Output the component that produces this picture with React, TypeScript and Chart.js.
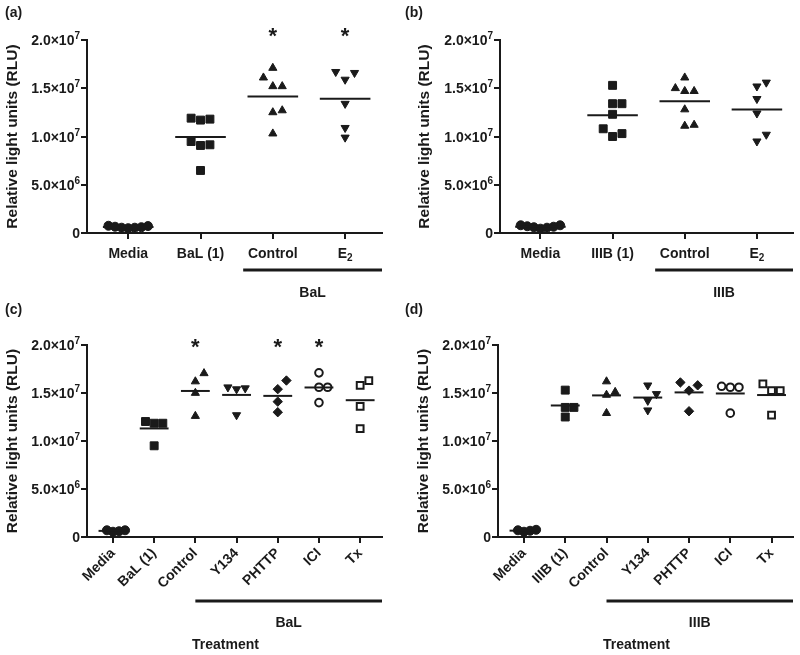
import React, { useEffect, useRef } from "react";
import { Chart, registerables } from "chart.js";

Chart.register(...registerables);

const INK = "#1a1a1a";
const FONT = "'Liberation Sans', Arial, Helvetica, sans-serif";

// ---- shared axis text ----
const yTickValues = [0, 5e6, 1e7, 1.5e7, 2e7];
const yTickLabels = ["0", "5.0×10⁶", "1.0×10⁷", "1.5×10⁷", "2.0×10⁷"];
const yAxisTitle = "Relative light units (RLU)";
const xAxisTitle = "Treatment";

// ---- panel (a): BaL ----
const aCategories = ["Media", "BaL (1)", "Control", "E₂"];
const aMedia = [0.75e6, 0.65e6, 0.55e6, 0.5e6, 0.55e6, 0.6e6, 0.72e6];
const aBaL1 = [11.9e6, 11.7e6, 11.8e6, 9.14e6, 9.07e6, 9.48e6, 6.48e6];
const aControl = [16.1e6, 17.1e6, 15.2e6, 15.2e6, 12.7e6, 12.5e6, 10.3e6];
const aE2 = [16.7e6, 15.9e6, 16.6e6, 13.4e6, 9.9e6, 10.9e6];
const aSignificant = [false, false, true, true];
const aGroup = "BaL";

// ---- panel (b): IIIB ----
const bCategories = ["Media", "IIIB (1)", "Control", "E₂"];
const bMedia = [0.8e6, 0.7e6, 0.6e6, 0.45e6, 0.55e6, 0.65e6, 0.8e6];
const bIIIB1 = [15.3e6, 13.4e6, 13.4e6, 12.3e6, 10.8e6, 10.0e6, 10.3e6];
const bControl = [16.1e6, 15.0e6, 14.7e6, 14.7e6, 12.8e6, 11.1e6, 11.2e6];
const bE2 = [15.6e6, 15.2e6, 13.9e6, 12.4e6, 9.5e6, 10.2e6];
const bSignificant = [false, false, false, false];
const bGroup = "IIIB";

// ---- panel (c): BaL with inhibitors ----
const cCategories = ["Media", "BaL (1)", "Control", "Y134", "PHTTP", "ICI", "Tx"];
const cMedia = [0.55e6, 0.7e6, 0.7e6, 0.6e6];
const cBaL1 = [11.85e6, 11.85e6, 12.03e6, 9.5e6];
const cControl = [16.2e6, 17.05e6, 15.0e6, 12.6e6];
const cY134 = [15.5e6, 15.4e6, 15.6e6, 12.7e6];
const cPHTTP = [16.3e6, 15.4e6, 14.1e6, 13.0e6];
const cICI = [17.1e6, 15.6e6, 15.6e6, 14.0e6];
const cTx = [15.8e6, 16.3e6, 13.6e6, 11.3e6];
const cSignificant = [false, false, true, false, true, true, false];
const cGroup = "BaL";

// ---- panel (d): IIIB with inhibitors ----
const dCategories = ["Media", "IIIB (1)", "Control", "Y134", "PHTTP", "ICI", "Tx"];
const dMedia = [0.55e6, 0.65e6, 0.7e6, 0.75e6];
const dIIIB1 = [15.3e6, 13.5e6, 13.5e6, 12.5e6];
const dControl = [16.2e6, 15.1e6, 14.8e6, 12.9e6];
const dY134 = [15.8e6, 14.9e6, 14.2e6, 13.2e6];
const dPHTTP = [15.8e6, 16.1e6, 15.25e6, 13.1e6];
const dICI = [15.6e6, 15.6e6, 15.7e6, 12.9e6];
const dTx = [15.25e6, 15.25e6, 15.95e6, 12.7e6];
const dSignificant = [false, false, false, false, false, false, false];
const dGroup = "IIIB";

// ---- marker styles ----
type Marker = { style: string; radius: number; rotation?: number; open?: boolean; packing?: number };
const dot: Marker = { style: "circle", radius: 4.5, packing: 0.7 };
const square: Marker = { style: "rect", radius: 5.6 };
const triUp: Marker = { style: "triangle", radius: 4.7 };
const triDown: Marker = { style: "triangle", radius: 4.7, rotation: 180 };
const diamond: Marker = { style: "rectRot", radius: 4.7 };
const ring: Marker = { style: "circle", radius: 3.8, open: true };
const openSquare: Marker = { style: "rect", radius: 4.8, open: true };

const MEAN_HALF = 0.35;
const SWARM_UNIT_Y = 1.0e6;

const SUPER: Record<string, string> = { "⁰": "0", "¹": "1", "²": "2", "³": "3", "⁴": "4", "⁵": "5", "⁶": "6", "⁷": "7", "⁸": "8", "⁹": "9" };
const SUB: Record<string, string> = { "₀": "0", "₁": "1", "₂": "2", "₃": "3", "₄": "4", "₅": "5", "₆": "6", "₇": "7", "₈": "8", "₉": "9" };

// split a label into runs: normal / sup / sub
function runs(text: string): { t: string; kind: "n" | "sup" | "sub" }[] {
  const out: { t: string; kind: "n" | "sup" | "sub" }[] = [];
  for (const ch of text) {
    const kind = SUPER[ch] ? "sup" : SUB[ch] ? "sub" : "n";
    const c = SUPER[ch] || SUB[ch] || ch;
    const last = out[out.length - 1];
    if (last && last.kind === kind) last.t += c;
    else out.push({ t: c, kind });
  }
  return out;
}

// draw rich label; align "right" or "center"; y is vertical middle
function drawRich(ctx: CanvasRenderingContext2D, text: string, x: number, y: number, align: "right" | "center", size: number) {
  const parts = runs(text);
  const small = Math.round(size * 0.72);
  const widths = parts.map((p) => {
    ctx.font = `bold ${p.kind === "n" ? size : small}px ${FONT}`;
    return ctx.measureText(p.t).width;
  });
  const total = widths.reduce((s, w) => s + w, 0);
  let cx = align === "right" ? x - total : x - total / 2;
  ctx.textAlign = "left";
  ctx.textBaseline = "alphabetic";
  const base = y + size * 0.36;
  parts.forEach((p, i) => {
    ctx.font = `bold ${p.kind === "n" ? size : small}px ${FONT}`;
    const dy = p.kind === "sup" ? -size * 0.42 : p.kind === "sub" ? size * 0.22 : 0;
    ctx.fillText(p.t, cx, base + dy);
    cx += widths[i];
  });
}

function swarm(values: number[], step: number): number[] {
  const order = values.map((_, i) => i).sort((p, q) => values[p] - values[q]);
  const placed: { dx: number; v: number }[] = [];
  const offs = new Array(values.length).fill(0);
  for (const i of order) {
    for (let k = 0; k < 50; k++) {
      const cand = k === 0 ? 0 : k % 2 === 1 ? (k + 1) / 2 : -k / 2;
      const hit = placed.some((p) => {
        const dx = p.dx - cand;
        const dy = (p.v - values[i]) / SWARM_UNIT_Y;
        return dx * dx + dy * dy < 0.999;
      });
      if (!hit) {
        offs[i] = cand;
        placed.push({ dx: cand, v: values[i] });
        break;
      }
    }
  }
  return offs.map((o) => o * step);
}

interface PanelSpec {
  tag: string;
  categories: string[];
  series: number[][];
  markers: Marker[];
  significant: boolean[];
  group: string;
  treatment: boolean;
  frame: { left: number; top: number; width: number; height: number };
  padLeft: number;
  yAxisWidth: number;
  padRight: number;
  padTop: number;
  xAxisHeight: number;
  xMin: number;
  xMax: number;
  rotate: number;
  swarmStep: number;
  bracketFrom: number;
  bracketGap: number;
  groupGap: number;
  treatmentGap: number;
  starGap: number;
  tagY: number;
  tickPad: number;
}

const panels: PanelSpec[] = [
  {
    tag: "(a)", categories: aCategories, series: [aMedia, aBaL1, aControl, aE2],
    markers: [dot, square, triUp, triDown], significant: aSignificant, group: aGroup, treatment: false,
    frame: { left: 0, top: 0, width: 400, height: 300 },
    padLeft: 0, yAxisWidth: 87, padRight: 18, padTop: 40, xAxisHeight: 67,
    xMin: -0.57, xMax: 3.51, rotate: 0, swarmStep: 0.13,
    bracketFrom: 1.59, bracketGap: 37, groupGap: 60, treatmentGap: 0, starGap: 10, tagY: 13, tickPad: 5,
  },
  {
    tag: "(b)", categories: bCategories, series: [bMedia, bIIIB1, bControl, bE2],
    markers: [dot, square, triUp, triDown], significant: bSignificant, group: bGroup, treatment: false,
    frame: { left: 400, top: 0, width: 400, height: 300 },
    padLeft: 12, yAxisWidth: 88, padRight: 7, padTop: 40, xAxisHeight: 67,
    xMin: -0.56, xMax: 3.5, rotate: 0, swarmStep: 0.13,
    bracketFrom: 1.59, bracketGap: 37, groupGap: 60, treatmentGap: 0, starGap: 10, tagY: 13, tickPad: 5,
  },
  {
    tag: "(c)", categories: cCategories, series: [cMedia, cBaL1, cControl, cY134, cPHTTP, cICI, cTx],
    markers: [dot, square, triUp, triDown, diamond, ring, openSquare], significant: cSignificant, group: cGroup, treatment: true,
    frame: { left: 0, top: 300, width: 400, height: 355 },
    padLeft: 0, yAxisWidth: 87, padRight: 18, padTop: 45, xAxisHeight: 118,
    xMin: -0.63, xMax: 6.53, rotate: 45, swarmStep: 0.21,
    bracketFrom: 2, bracketGap: 64, groupGap: 86, treatmentGap: 108, starGap: 4, tagY: 10, tickPad: 2,
  },
  {
    tag: "(d)", categories: dCategories, series: [dMedia, dIIIB1, dControl, dY134, dPHTTP, dICI, dTx],
    markers: [dot, square, triUp, triDown, diamond, ring, openSquare], significant: dSignificant, group: dGroup, treatment: true,
    frame: { left: 400, top: 300, width: 400, height: 355 },
    padLeft: 11, yAxisWidth: 87, padRight: 7, padTop: 45, xAxisHeight: 118,
    xMin: -0.63, xMax: 6.52, rotate: 45, swarmStep: 0.21,
    bracketFrom: 2, bracketGap: 64, groupGap: 86, treatmentGap: 108, starGap: 4, tagY: 10, tickPad: 2,
  },
];

function Panel({ spec }: { spec: PanelSpec }) {
  const ref = useRef<HTMLCanvasElement>(null);
  useEffect(() => {
    const canvas = ref.current;
    if (!canvas) return;
    const datasets: any[] = [];
    spec.series.forEach((vals, ci) => {
      const m = spec.markers[ci];
      const offs = swarm(vals, spec.swarmStep * (m.packing ?? 1));
      datasets.push({
        label: spec.categories[ci],
        data: vals.map((v, k) => ({ x: ci + offs[k], y: v })),
        showLine: false,
        pointStyle: m.style,
        pointRadius: m.radius,
        pointHoverRadius: m.radius,
        pointRotation: m.rotation ?? 0,
        pointBackgroundColor: m.open ? "#ffffff" : INK,
        pointBorderColor: INK,
        pointBorderWidth: m.open ? 2 : 1,
        order: 2,
      });
      const mean = vals.reduce((s, v) => s + v, 0) / vals.length;
      datasets.push({
        label: spec.categories[ci] + " mean",
        data: [
          { x: ci - MEAN_HALF, y: mean },
          { x: ci + MEAN_HALF, y: mean },
        ],
        showLine: true,
        borderColor: INK,
        borderWidth: 2,
        pointRadius: 0,
        pointHoverRadius: 0,
        order: 1,
      });
    });

    const customX = spec.rotate === 0;

    const decor = {
      id: "decor",
      afterDraw(chart: any) {
        const { ctx, chartArea } = chart;
        const xs = chart.scales.x;
        const ys = chart.scales.y;
        ctx.save();
        ctx.fillStyle = INK;
        ctx.strokeStyle = INK;
        // y tick labels (with superscript exponents)
        yTickValues.forEach((v, i) => {
          drawRich(ctx, yTickLabels[i], chartArea.left - 7, ys.getPixelForValue(v), "right", 14);
        });
        // x tick labels for unrotated panels (subscripts)
        if (customX) {
          spec.categories.forEach((c, i) => {
            drawRich(ctx, c, xs.getPixelForValue(i), chartArea.bottom + 20, "center", 14);
          });
        }
        ctx.font = `bold 14px ${FONT}`;
        ctx.textAlign = "left";
        ctx.textBaseline = "middle";
        ctx.fillText(spec.tag, 5, spec.tagY);
        ctx.font = `bold 22px ${FONT}`;
        ctx.textAlign = "center";
        ctx.textBaseline = "alphabetic";
        spec.significant.forEach((s, i) => {
          if (s) ctx.fillText("*", xs.getPixelForValue(i), chartArea.top - spec.starGap + 0.58 * 22);
        });
        const bx0 = xs.getPixelForValue(spec.bracketFrom);
        const by = chartArea.bottom + spec.bracketGap;
        ctx.lineWidth = 3;
        ctx.beginPath();
        ctx.moveTo(bx0, by);
        ctx.lineTo(chartArea.right, by);
        ctx.stroke();
        ctx.font = `bold 14px ${FONT}`;
        ctx.textAlign = "center";
        ctx.textBaseline = "middle";
        ctx.fillText(spec.group, (bx0 + chartArea.right) / 2, chartArea.bottom + spec.groupGap);
        if (spec.treatment) {
          ctx.fillText(xAxisTitle, (chartArea.left + chartArea.right) / 2 - 9, chartArea.bottom + spec.treatmentGap);
        }
        ctx.restore();
      },
    };

    const chart = new Chart(canvas, {
      type: "scatter",
      data: { datasets },
      options: {
        animation: false,
        responsive: false,
        devicePixelRatio: 1,
        layout: { padding: { left: spec.padLeft, right: spec.padRight, top: spec.padTop, bottom: 0 } },
        plugins: { legend: { display: false }, tooltip: { enabled: false } },
        events: [],
        scales: {
          x: {
            type: "linear",
            min: spec.xMin,
            max: spec.xMax,
            afterBuildTicks: (s: any) => {
              s.ticks = spec.categories.map((_, i) => ({ value: i }));
            },
            afterFit: (s: any) => {
              s.height = spec.xAxisHeight;
            },
            ticks: {
              display: !customX,
              autoSkip: false,
              minRotation: spec.rotate,
              maxRotation: spec.rotate,
              padding: spec.tickPad,
              color: INK,
              font: { family: FONT, size: 14, weight: "bold" },
              callback: (_v: any, i: number) => spec.categories[i],
            },
            grid: { drawOnChartArea: false, drawTicks: true, tickLength: 6, color: INK, lineWidth: 2 },
            border: { display: true, color: INK, width: 2 },
          },
          y: {
            type: "linear",
            min: 0,
            max: 2e7,
            afterBuildTicks: (s: any) => {
              s.ticks = yTickValues.map((v) => ({ value: v }));
            },
            afterFit: (s: any) => {
              s.width = spec.yAxisWidth;
            },
            ticks: {
              display: false,
              callback: (_v: any, i: number) => yTickLabels[i],
            },
            title: {
              display: true,
              text: yAxisTitle,
              color: INK,
              font: { family: FONT, size: 15.5, weight: "bold" },
              padding: { top: 3, bottom: 0 },
            },
            grid: { drawOnChartArea: false, drawTicks: true, tickLength: 6, color: INK, lineWidth: 2 },
            border: { display: true, color: INK, width: 2 },
          },
        },
      } as any,
      plugins: [decor],
    });
    return () => chart.destroy();
  }, [spec]);

  return (
    <canvas
      ref={ref}
      width={spec.frame.width}
      height={spec.frame.height}
      style={{
        position: "absolute",
        left: spec.frame.left,
        top: spec.frame.top,
        width: spec.frame.width,
        height: spec.frame.height,
      }}
    />
  );
}

export default function App() {
  return (
    <div style={{ position: "absolute", left: 0, top: 0, width: 800, height: 655, background: "#ffffff" }}>
      {panels.map((p) => (
        <Panel key={p.tag} spec={p} />
      ))}
    </div>
  );
}
